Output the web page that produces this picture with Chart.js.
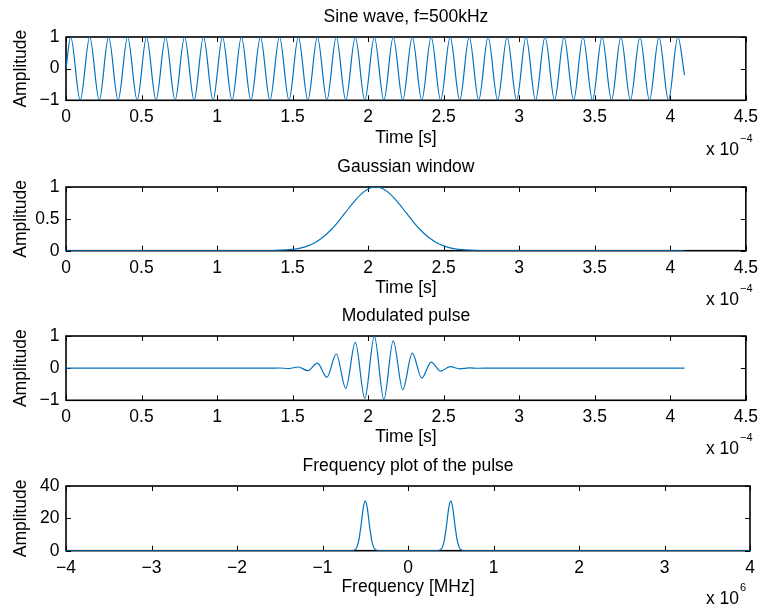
<!DOCTYPE html>
<html>
<head>
<meta charset="utf-8">
<script src="https://cdn.jsdelivr.net/npm/chart.js@4/dist/chart.umd.min.js"></script>
<style>
  html, body { margin:0; padding:0; background:#fff; }
  #wrap { position:relative; width:765px; height:610px; overflow:hidden; background:#fff; }
  #wrap canvas { position:absolute; left:0; }
</style>
</head>
<body>
<div id="wrap">
  <canvas id="c1" width="765" height="165" style="top:0px"></canvas>
  <canvas id="c2" width="765" height="165" style="top:150px"></canvas>
  <canvas id="c3" width="765" height="165" style="top:299px"></canvas>
  <canvas id="c4" width="765" height="165" style="top:449px"></canvas>
</div>
<script>
// ---------- DATA (time in units of 1e-4 s, frequency in units of 1e6 Hz) ----------
const titles = ['Sine wave, f=500kHz', 'Gaussian window', 'Modulated pulse', 'Frequency plot of the pulse'];
const xLabels = ['Time [s]', 'Time [s]', 'Time [s]', 'Frequency [MHz]'];
const xExponents = ['\u22124', '\u22124', '\u22124', '6'];
const yLabel = 'Amplitude';

const timeTicks = [0, 0.5, 1, 1.5, 2, 2.5, 3, 3.5, 4, 4.5];
const freqTicks = [-4, -3, -2, -1, 0, 1, 2, 3, 4];
const sineYTicks = [-1, 0, 1];
const windowYTicks = [0, 0.5, 1];
const pulseYTicks = [-1, 0, 1];
const freqYTicks = [0, 20, 40];

// Sine wave: start, successive crests/troughs, end point
const sineTime = [0,
  0.031, 0.094, 0.157, 0.220, 0.282, 0.345, 0.408, 0.471, 0.533, 0.596,
  0.659, 0.722, 0.785, 0.848, 0.910, 0.973, 1.036, 1.099, 1.161, 1.224,
  1.287, 1.350, 1.413, 1.476, 1.538, 1.601, 1.664, 1.727, 1.789, 1.852,
  1.915, 1.978, 2.041, 2.104, 2.166, 2.229, 2.292, 2.355, 2.417, 2.480,
  2.543, 2.606, 2.669, 2.732, 2.794, 2.857, 2.920, 2.983, 3.045, 3.108,
  3.171, 3.234, 3.297, 3.360, 3.422, 3.485, 3.548, 3.611, 3.673, 3.736,
  3.799, 3.862, 3.925, 3.988, 4.050, 4.094];
const sineAmp = [0,
  1, -1, 1, -1, 1, -1, 1, -1, 1, -1,
  1, -1, 1, -1, 1, -1, 1, -1, 1, -1,
  1, -1, 1, -1, 1, -1, 1, -1, 1, -1,
  1, -1, 1, -1, 1, -1, 1, -1, 1, -1,
  1, -1, 1, -1, 1, -1, 1, -1, 1, -1,
  1, -1, 1, -1, 1, -1, 1, -1, 1, -1,
  1, -1, 1, -1, 1, -0.2];

// Gaussian window
const windowTime = [0, 1.2, 1.3, 1.4, 1.5, 1.55, 1.6, 1.65, 1.7, 1.75, 1.8, 1.85, 1.9, 1.95, 2.0, 2.05,
  2.1, 2.15, 2.2, 2.25, 2.3, 2.35, 2.4, 2.45, 2.5, 2.55, 2.6, 2.7, 2.8, 2.9, 4.094];
const windowAmp = [0, 0.0001, 0.0008, 0.0046, 0.021, 0.041, 0.076, 0.13, 0.21, 0.317, 0.45, 0.60, 0.75, 0.88, 0.969, 1,
  0.969, 0.88, 0.75, 0.60, 0.45, 0.317, 0.21, 0.13, 0.076, 0.041, 0.021, 0.0046, 0.0008, 0.0001, 0];

// Modulated pulse: start, crests/troughs under the window, end point
const pulseTime = [0, 1.35, 1.413, 1.476, 1.538, 1.601, 1.664, 1.727, 1.789, 1.852, 1.915, 1.978,
  2.041, 2.104, 2.166, 2.229, 2.292, 2.355, 2.417, 2.480, 2.543, 2.606, 2.669, 2.732, 2.794, 4.094];
const pulseAmp = [0, 0, 0.005, -0.012, 0.035, -0.08, 0.155, -0.28, 0.44, -0.63, 0.80, -0.94,
  0.99, -0.97, 0.85, -0.67, 0.47, -0.31, 0.19, -0.09, 0.045, -0.02, 0.008, -0.003, 0, 0];

// Frequency spectrum magnitude
const freqAxis = [-4, -0.7, -0.65, -0.625, -0.6, -0.575, -0.55, -0.525, -0.5, -0.475, -0.45, -0.425, -0.4, -0.375, -0.35, -0.3,
  0.3, 0.35, 0.375, 0.4, 0.425, 0.45, 0.475, 0.5, 0.525, 0.55, 0.575, 0.6, 0.625, 0.65, 0.7, 4];
const freqMag = [0, 0, 0.06, 0.4, 1.9, 6.5, 15.4, 25.9, 30.8, 25.9, 15.4, 6.5, 1.9, 0.4, 0.06, 0,
  0, 0.06, 0.4, 1.9, 6.5, 15.4, 25.9, 30.8, 25.9, 15.4, 6.5, 1.9, 0.4, 0.06, 0, 0];

// ---------- RENDER ----------
const FAMILY = '"Liberation Sans", Arial, Helvetica, sans-serif';
const FS = 17.5;
const LINE = '#0072BD';
const fmt = v => String(Math.round(v * 1000) / 1000).replace('-', '\u2212');

function boxPlugin(idx) {
  return {
    id: 'matlabBox' + idx,
    beforeDatasetsDraw(chart) {
      const a = chart.chartArea, ctx = chart.ctx;
      const xs = chart.scales.x, ys = chart.scales.y;
      ctx.save();
      ctx.strokeStyle = '#000';
      ctx.lineWidth = 1;
      ctx.beginPath();
      xs.ticks.forEach(t => {
        const p = Math.round(xs.getPixelForValue(t.value)) + 0.5;
        ctx.moveTo(p, a.bottom); ctx.lineTo(p, a.bottom - 5);
        ctx.moveTo(p, a.top); ctx.lineTo(p, a.top + 5);
      });
      ys.ticks.forEach(t => {
        const p = Math.round(ys.getPixelForValue(t.value)) + 0.5;
        ctx.moveTo(a.left, p); ctx.lineTo(a.left + 5, p);
        ctx.moveTo(a.right, p); ctx.lineTo(a.right - 5, p);
      });
      ctx.stroke();
      ctx.lineWidth = 1.6;
      ctx.strokeRect(a.left, a.top, a.right - a.left, a.bottom - a.top);
      ctx.restore();
    },
    afterDraw(chart) {
      const a = chart.chartArea, ctx = chart.ctx;
      ctx.save();
      ctx.fillStyle = '#000';
      ctx.font = FS + 'px ' + FAMILY;
      ctx.textAlign = 'center';
      ctx.textBaseline = 'middle';
      ctx.fillText(titles[idx], (a.left + a.right) / 2, 17);
      // exponent label
      ctx.textAlign = 'right';
      ctx.fillText('x 10', 739, 150);
      ctx.font = '11px ' + FAMILY;
      ctx.textAlign = 'left';
      ctx.fillText(xExponents[idx], 740, 139);
      ctx.restore();
    }
  };
}

function makeChart(id, idx, xs, ys, xr, xTicks, yTicks, boxBottom) {
  const pts = xs.map((x, i) => ({ x: x, y: ys[i] }));
  const tickFont = { family: FAMILY, size: FS, lineHeight: 1.15 };
  return new Chart(document.getElementById(id), {
    type: 'line',
    data: { datasets: [{
      data: pts, borderColor: LINE, borderWidth: 1.2, pointRadius: 0,
      cubicInterpolationMode: 'monotone', fill: false
    }] },
    options: {
      responsive: false, animation: false, events: [],
      layout: { padding: { top: 37, right: 15, bottom: 15, left: 0 } },
      plugins: { legend: { display: false }, tooltip: { enabled: false }, title: { display: false } },
      scales: {
        x: {
          type: 'linear', min: xr[0], max: xr[1],
          afterBuildTicks: s => { s.ticks = xTicks.map(v => ({ value: v })); },
          ticks: { color: '#000', font: tickFont, padding: 7, maxRotation: 0, autoSkip: false, callback: fmt },
          grid: { display: false, drawTicks: false }, border: { display: false },
          title: { display: true, text: xLabels[idx], color: '#000', font: tickFont, padding: { top: 0, bottom: 2 } },
          afterFit: s => { s.height = 150 - boxBottom; }
        },
        y: {
          type: 'linear', min: yTicks[0], max: yTicks[yTicks.length - 1],
          afterBuildTicks: s => { s.ticks = yTicks.map(v => ({ value: v })); },
          ticks: { color: '#000', font: tickFont, padding: 6.5, autoSkip: false, callback: fmt },
          grid: { display: false, drawTicks: false }, border: { display: false },
          title: { display: true, text: yLabel, color: '#000', font: tickFont, padding: { top: 11, bottom: 0 } },
          afterFit: s => { s.width = 66; }
        }
      }
    },
    plugins: [boxPlugin(idx)]
  });
}

makeChart('c1', 0, sineTime, sineAmp, [0, 4.5], timeTicks, sineYTicks, 100.3);
makeChart('c2', 1, windowTime, windowAmp, [0, 4.5], timeTicks, windowYTicks, 100.7);
makeChart('c3', 2, pulseTime, pulseAmp, [0, 4.5], timeTicks, pulseYTicks, 101.3);
makeChart('c4', 3, freqAxis, freqMag, [-4, 4], freqTicks, freqYTicks, 101.7);
</script>
</body>
</html>
